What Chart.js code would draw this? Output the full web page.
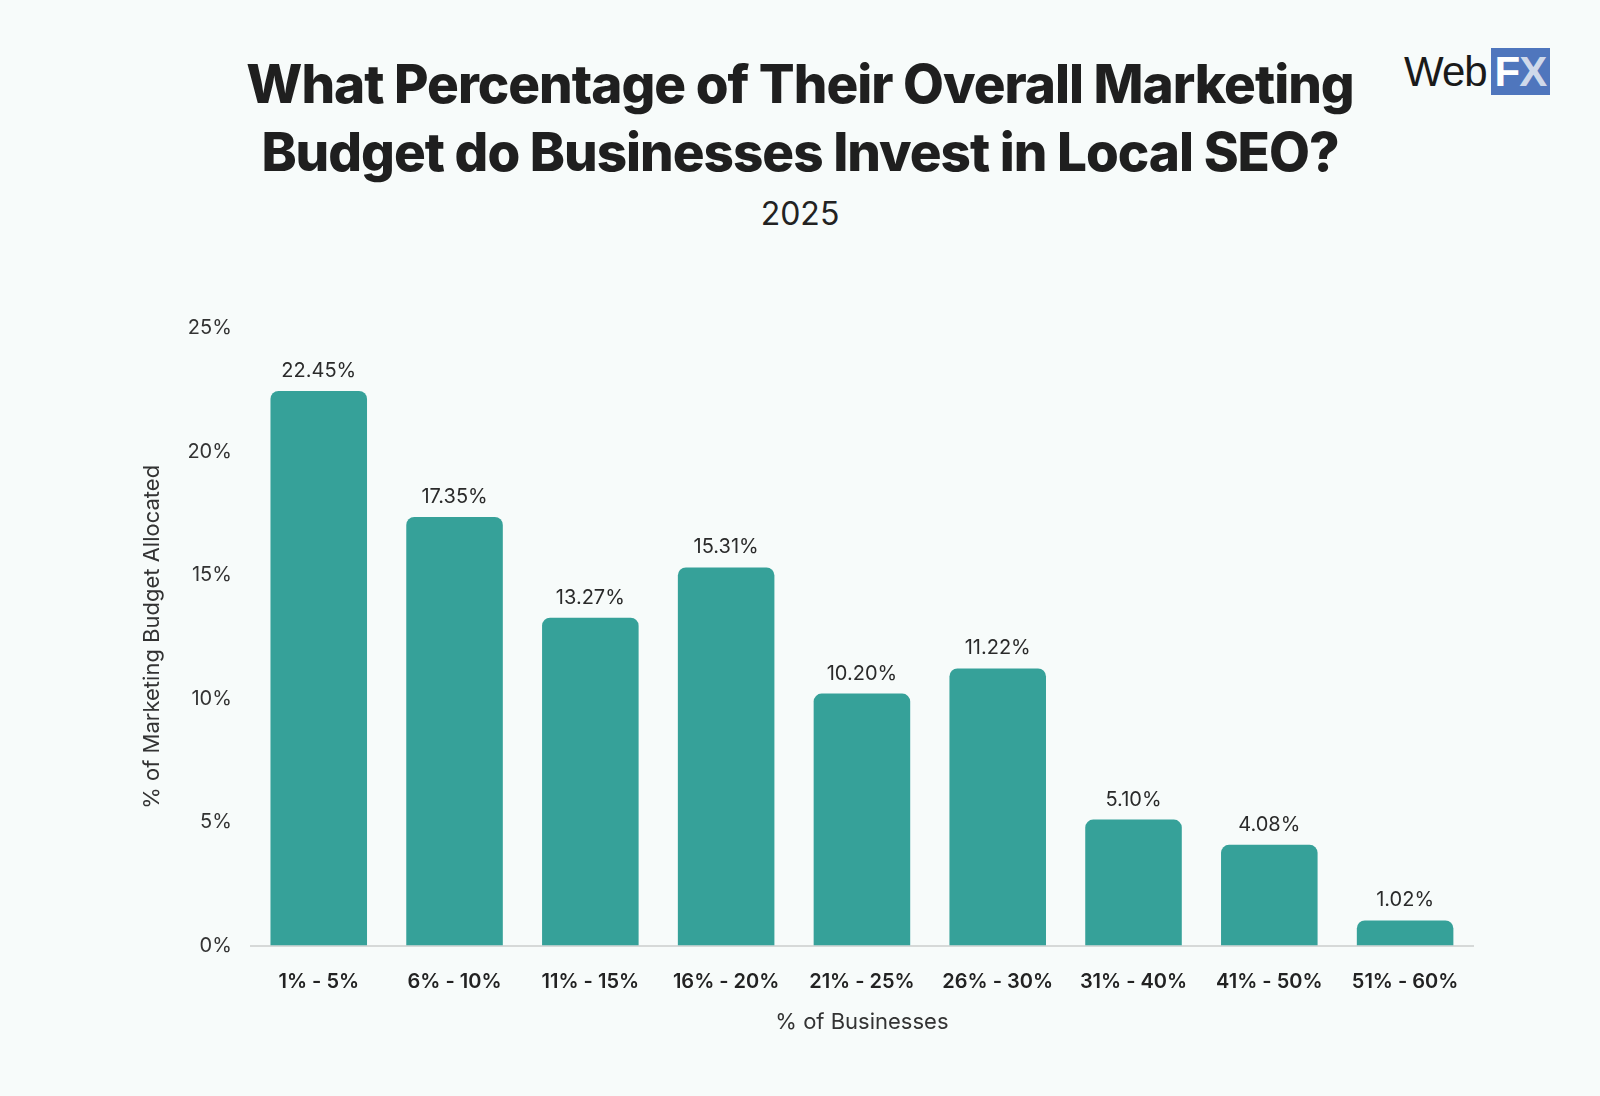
<!DOCTYPE html>
<html><head><meta charset="utf-8">
<script src="https://cdn.jsdelivr.net/npm/chart.js@4"></script>
<style>
html,body{margin:0;padding:0;background:#f7fbfa;width:1600px;height:1096px;overflow:hidden;font-family:Inter,sans-serif}
#t{position:absolute;top:50px;left:0;width:1600px;text-align:center;font-weight:800;font-size:53px;line-height:68px;color:#1f1f1f;letter-spacing:-1px}
#s{position:absolute;top:194px;left:0;width:1600px;text-align:center;font-size:32px;color:#222}
#logo{position:absolute;top:48px;left:1404px;font-family:"Liberation Sans",Arial,sans-serif;font-size:42px;color:#1a1a1a;letter-spacing:-1px}
#logo span{background:#4f76bd;color:#fff;padding:0 4px;margin-left:4px;font-weight:700}
#c{position:absolute;top:0;left:0}
</style></head><body>
<div id="t">What Percentage of Their Overall Marketing<br>Budget do Businesses Invest in Local SEO?</div>
<div id="s">2025</div>
<div id="logo">Web<span>F<span style="color:#cfd9ea;background:none;padding:0;margin:0">X</span></span></div>
<canvas id="c" width="1600" height="1096"></canvas>
<script>
const categories=["1% - 5%","6% - 10%","11% - 15%","16% - 20%","21% - 25%","26% - 30%","31% - 40%","41% - 50%","51% - 60%"];
const values=[22.45,17.35,13.27,15.31,10.20,11.22,5.10,4.08,1.02];
const yTicks=[0,5,10,15,20,25];
const labelPlugin={id:'lbl',afterDatasetsDraw(ch){const ctx=ch.ctx;const m=ch.getDatasetMeta(0);ctx.save();ctx.font='20px Inter';ctx.fillStyle='#2a2a2a';ctx.textAlign='center';ctx.textBaseline='bottom';m.data.forEach((b,i)=>{ctx.fillText(values[i].toFixed(2)+'%',b.x,b.y-10);});ctx.restore();}};
new Chart(document.getElementById('c'),{type:'bar',
data:{labels:categories,datasets:[{data:values,backgroundColor:'#36a199',borderRadius:8,borderSkipped:'bottom',barPercentage:0.9,categoryPercentage:0.79}]},
options:{responsive:false,animation:false,
layout:{padding:{top:328,right:127,bottom:60,left:139}},
plugins:{legend:{display:false},tooltip:{enabled:false}},
scales:{
x:{grid:{display:false},border:{display:true,color:'#d6d9d8',width:2},ticks:{color:'#222',font:{family:'Inter',size:20,weight:'600'},padding:16},
 title:{display:true,text:'% of Businesses',color:'#333',font:{family:'Inter',size:22},padding:{top:0,bottom:0}}},
y:{min:0,max:25,grid:{display:false},border:{display:false},afterBuildTicks(a){a.ticks=yTicks.map(v=>({value:v}));},
 ticks:{color:'#333',font:{family:'Inter',size:20},padding:11,callback:v=>v+'%'},
 title:{display:true,text:'% of Marketing Budget Allocated',color:'#333',font:{family:'Inter',size:22},padding:{top:0,bottom:11}}}
}},plugins:[labelPlugin]});
</script></body></html>
